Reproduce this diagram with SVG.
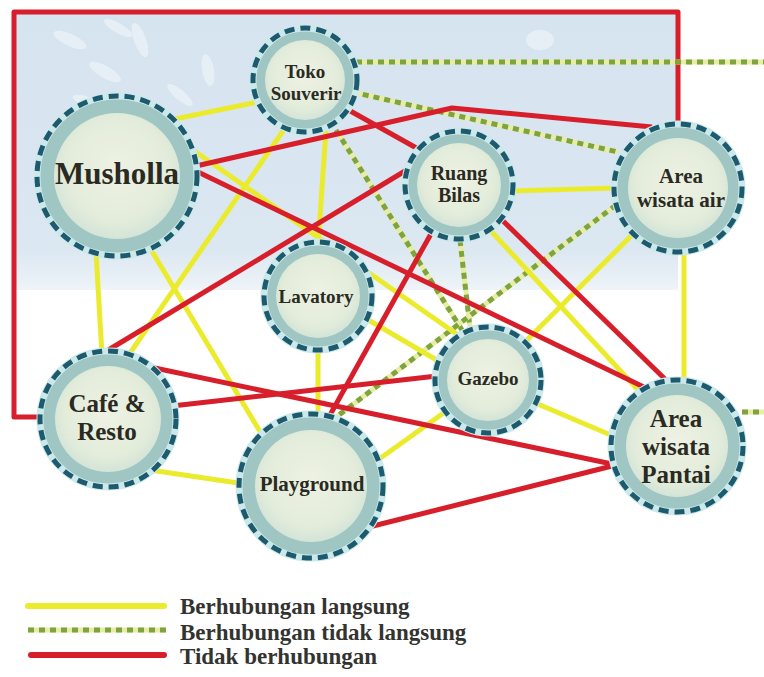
<svg xmlns="http://www.w3.org/2000/svg" width="764" height="677" viewBox="0 0 764 677">
  <defs>
    <radialGradient id="coreFill" cx="50%" cy="45%" r="55%">
      <stop offset="0" stop-color="#eef2e4"/>
      <stop offset="0.75" stop-color="#e3ecda"/>
      <stop offset="1" stop-color="#d3e4d8"/>
    </radialGradient>
    <linearGradient id="skyFade" x1="0" y1="0" x2="0" y2="1">
      <stop offset="0" stop-color="#d6e4f0"/>
      <stop offset="0.85" stop-color="#dbe7f1"/>
      <stop offset="1" stop-color="#eef4f8"/>
    </linearGradient>
    <style>
      .band { fill:#9fc6c2; stroke:#cbe9ea; stroke-width:7; }
      .core { fill:url(#coreFill); }
      .rim  { fill:none; stroke:#1d5a6e; stroke-width:5; stroke-dasharray:10 6; }
      .lbl  { font-family:"Liberation Serif","Times New Roman",serif; font-weight:bold; fill:#2a2a22; text-anchor:middle; }
      .yl   { fill:none; stroke:#ebeb2e; stroke-width:5; }
      .rd   { fill:none; stroke:#d71f2c; stroke-width:5; stroke-linejoin:round; }
      .dtb  { fill:none; stroke:#e9eca6; stroke-width:5; }
      .dt   { fill:none; stroke:#7ea43c; stroke-width:5; stroke-dasharray:6 5; }
      .leg  { font-family:"Liberation Serif","Times New Roman",serif; font-weight:bold; fill:#333330; font-size:23px; }
      .wm   { fill:#ffffff; opacity:0.4; }
    </style>
  </defs>

  <rect width="764" height="677" fill="#ffffff"/>

  <!-- tinted backdrop of the upper zone -->
  <rect x="14" y="12" width="664" height="278" fill="url(#skyFade)"/>
  <g id="backdrop-leaves">
    <ellipse class="wm" cx="70" cy="40" rx="18" ry="6" transform="rotate(25 70 40)"/>
    <ellipse class="wm" cx="105" cy="72" rx="18" ry="6" transform="rotate(30 105 72)"/>
    <ellipse class="wm" cx="88" cy="102" rx="16" ry="5" transform="rotate(20 88 102)"/>
    <ellipse class="wm" cx="140" cy="40" rx="6" ry="18" transform="rotate(-20 140 40)"/>
    <ellipse class="wm" cx="118" cy="28" rx="16" ry="5" transform="rotate(30 118 28)"/>
    <ellipse class="wm" cx="180" cy="95" rx="16" ry="5" transform="rotate(40 180 95)"/>
    <ellipse class="wm" cx="208" cy="70" rx="6" ry="16" transform="rotate(-10 208 70)"/>
    <ellipse class="wm" cx="540" cy="40" rx="14" ry="10"/>
  </g>

  <g id="connectors">
    <!-- frame line: Area wisata air to Cafe & Resto -->
    <polyline class="rd" points="678,126 678,12 14,12 14,417 42,417"/>

    <!-- indirect relations (dotted) -->
    <g id="indirect">
      <line class="dtb" x1="356" y1="62" x2="764" y2="62"/>
      <line class="dt"  x1="356" y1="62" x2="764" y2="62"/>
      <line class="dtb" x1="352" y1="92" x2="618" y2="152"/>
      <line class="dt"  x1="352" y1="92" x2="618" y2="152"/>
      <line class="dtb" x1="336" y1="130" x2="462" y2="330"/>
      <line class="dt"  x1="336" y1="130" x2="462" y2="330"/>
      <line class="dtb" x1="460" y1="240" x2="470" y2="328"/>
      <line class="dt"  x1="460" y1="240" x2="470" y2="328"/>
      <line class="dtb" x1="616" y1="205" x2="335" y2="418"/>
      <line class="dt"  x1="616" y1="205" x2="335" y2="418"/>
      <line class="dtb" x1="742" y1="412" x2="764" y2="412"/>
      <line class="dt"  x1="742" y1="412" x2="764" y2="412"/>
    </g>

    <!-- direct relations (yellow) -->
    <g id="direct">
      <line class="yl" x1="170" y1="120" x2="258" y2="102"/>
      <line class="yl" x1="96" y1="252" x2="102" y2="355"/>
      <line class="yl" x1="150" y1="248" x2="262" y2="435"/>
      <line class="yl" x1="285" y1="128" x2="128" y2="356"/>
      <line class="yl" x1="326" y1="130" x2="318" y2="245"/>
      <line class="yl" x1="510" y1="191" x2="616" y2="188"/>
      <line class="yl" x1="684" y1="250" x2="684" y2="382"/>
      <line class="yl" x1="634" y1="233" x2="525" y2="342"/>
      <line class="yl" x1="533" y1="402" x2="613" y2="436"/>
      <line class="yl" x1="150" y1="470" x2="245" y2="484"/>
      <line class="yl" x1="318" y1="348" x2="318" y2="415"/>
      <line class="yl" x1="490" y1="230" x2="640" y2="392"/>
      <line class="yl" x1="190" y1="148" x2="458" y2="335"/>
      <line class="yl" x1="365" y1="318" x2="440" y2="362"/>
      <line class="yl" x1="445" y1="412" x2="375" y2="462"/>
    </g>

    <!-- no relation (red) -->
    <g id="none">
      <polyline class="rd" points="196,166 452,108 652,127"/>
      <line class="rd" x1="198" y1="172" x2="650" y2="390"/>
      <line class="rd" x1="345" y1="108" x2="420" y2="150"/>
      <line class="rd" x1="410" y1="168" x2="100" y2="355"/>
      <line class="rd" x1="432" y1="232" x2="330" y2="415"/>
      <line class="rd" x1="500" y1="218" x2="668" y2="382"/>
      <line class="rd" x1="150" y1="367" x2="612" y2="464"/>
      <line class="rd" x1="437" y1="376" x2="172" y2="406"/>
      <line class="rd" x1="365" y1="528" x2="612" y2="466"/>
    </g>
  </g>

  <!-- spaces -->
  <g id="musholla">
    <circle class="band" cx="117" cy="176" r="80"/>
    <circle class="core" cx="117" cy="176" r="63"/>
    <circle class="rim" cx="117" cy="176" r="80"/>
    <text class="lbl" x="117" y="184" font-size="31">Musholla</text>
  </g>
  <g id="toko-souverir">
    <circle class="band" cx="305" cy="80" r="52"/>
    <circle class="core" cx="305" cy="80" r="40"/>
    <circle class="rim" cx="305" cy="80" r="52"/>
    <text class="lbl" x="305" y="78" font-size="19">Toko</text>
    <text class="lbl" x="306" y="100" font-size="19">Souverir</text>
  </g>
  <g id="ruang-bilas">
    <circle class="band" cx="459" cy="185" r="54"/>
    <circle class="core" cx="459" cy="185" r="42"/>
    <circle class="rim" cx="459" cy="185" r="54"/>
    <text class="lbl" x="459" y="180" font-size="20">Ruang</text>
    <text class="lbl" x="459" y="202" font-size="20">Bilas</text>
  </g>
  <g id="area-wisata-air">
    <circle class="band" cx="678" cy="188" r="64"/>
    <circle class="core" cx="678" cy="188" r="50"/>
    <circle class="rim" cx="678" cy="188" r="64"/>
    <text class="lbl" x="681" y="183" font-size="21">Area</text>
    <text class="lbl" x="681" y="207" font-size="21">wisata air</text>
  </g>
  <g id="lavatory">
    <circle class="band" cx="318" cy="296" r="54"/>
    <circle class="core" cx="318" cy="296" r="42"/>
    <circle class="rim" cx="318" cy="296" r="54"/>
    <text class="lbl" x="316" y="303" font-size="19">Lavatory</text>
  </g>
  <g id="gazebo">
    <circle class="band" cx="488" cy="380" r="53"/>
    <circle class="core" cx="488" cy="380" r="41"/>
    <circle class="rim" cx="488" cy="380" r="53"/>
    <text class="lbl" x="488" y="385" font-size="19">Gazebo</text>
  </g>
  <g id="cafe-resto">
    <circle class="band" cx="108" cy="419" r="68"/>
    <circle class="core" cx="108" cy="419" r="53"/>
    <circle class="rim" cx="108" cy="419" r="68"/>
    <text class="lbl" x="107" y="412" font-size="25">Café &amp;</text>
    <text class="lbl" x="107" y="440" font-size="25">Resto</text>
  </g>
  <g id="playground">
    <circle class="band" cx="311" cy="486" r="72"/>
    <circle class="core" cx="311" cy="486" r="56"/>
    <circle class="rim" cx="311" cy="486" r="72"/>
    <text class="lbl" x="312" y="491" font-size="21">Playground</text>
  </g>
  <g id="area-wisata-pantai">
    <circle class="band" cx="677" cy="446" r="66"/>
    <circle class="core" cx="677" cy="446" r="51"/>
    <circle class="rim" cx="677" cy="446" r="66"/>
    <text class="lbl" x="676" y="427" font-size="25">Area</text>
    <text class="lbl" x="676" y="455" font-size="25">wisata</text>
    <text class="lbl" x="676" y="483" font-size="25">Pantai</text>
  </g>

  <!-- key -->
  <g id="legend">
    <line x1="28" y1="606" x2="164" y2="606" stroke="#ebeb2e" stroke-width="6" stroke-linecap="round"/>
    <line x1="28" y1="630" x2="166" y2="630" stroke="#e9eca6" stroke-width="5"/>
    <line x1="28" y1="630" x2="166" y2="630" stroke="#7ea43c" stroke-width="5" stroke-dasharray="6 5"/>
    <line x1="31" y1="655" x2="164" y2="655" stroke="#d71f2c" stroke-width="6" stroke-linecap="round"/>
    <text class="leg" x="180" y="614">Berhubungan langsung</text>
    <text class="leg" x="180" y="640">Berhubungan tidak langsung</text>
    <text class="leg" x="180" y="664">Tidak berhubungan</text>
  </g>
</svg>
